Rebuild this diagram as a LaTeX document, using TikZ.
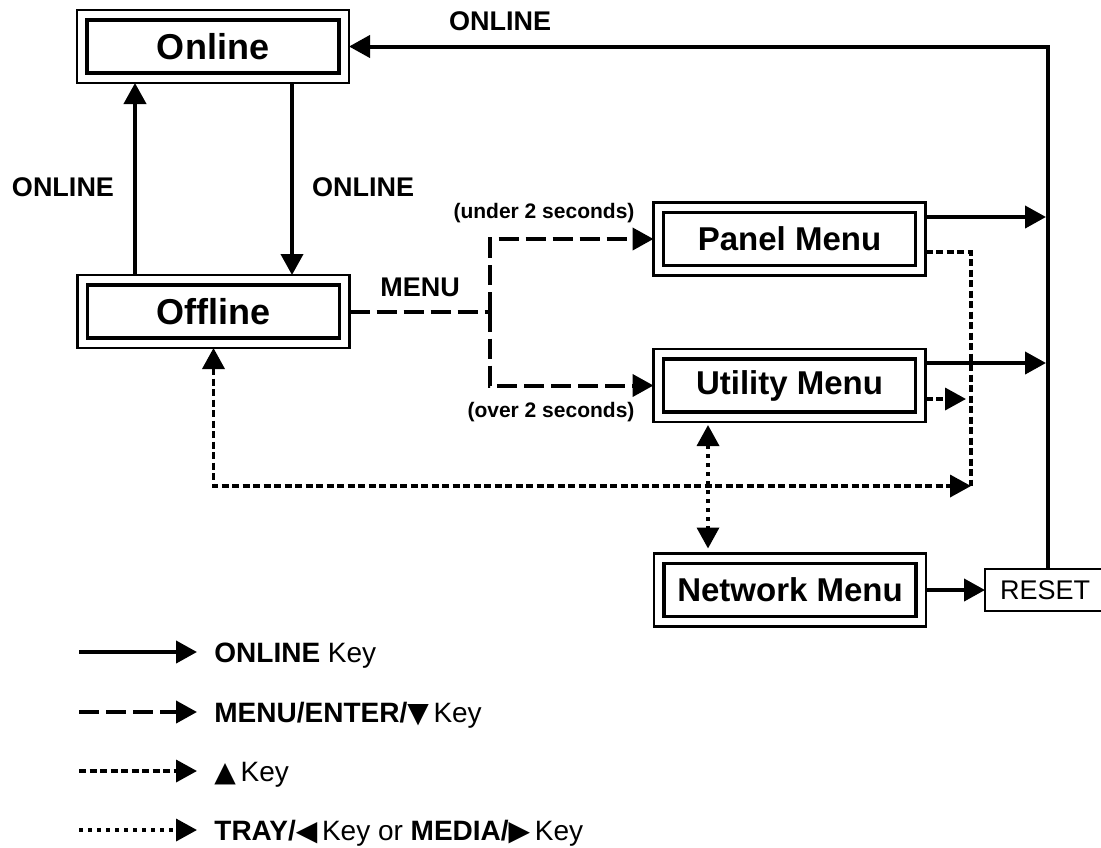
\documentclass[tikz,border=0pt]{standalone}
\usepackage{fontspec}
\setmainfont{Liberation Sans}
\newfontfamily\symfont{DejaVu Sans}
\usetikzlibrary{arrows.meta,calc}
\begin{document}
\begin{tikzpicture}[x=0.5pt,y=-0.5pt,
  >={Triangle[length=10.5pt,width=11pt]},
  box/.style={draw, line width=1.1pt, minimum width=136pt, minimum height=36.5pt,
    inner sep=0pt, outer sep=0pt, font=\bfseries\fontsize{18}{20}\selectfont},
  box2/.style={box, font=\bfseries\fontsize{16.5}{18}\selectfont},
  inbox/.style={line width=1.6pt},
  key/.style={line width=2pt},
  menukey/.style={line width=2pt, dash pattern=on 10pt off 3.5pt},
  upkey/.style={line width=1.8pt, dash pattern=on 3.5pt off 1.75pt},
  traykey/.style={line width=1.8pt, dash pattern=on 2pt off 2.5pt},
  lbl/.style={font=\bfseries\fontsize{13.5}{15}\selectfont, inner sep=0pt},
  sec/.style={font=\bfseries\fontsize{10.5}{12}\selectfont, inner sep=0pt},
  legend/.style={font=\fontsize{14}{16}\selectfont, anchor=base west, inner sep=0pt}]

\newcommand\tri[1]{{\symfont\fontsize{14}{16}\selectfont #1}}

\path[fill=white, use as bounding box] (0,0) rectangle (1101,847);

% boxes
\node[box]  (on)  at (213,46.5)    {Online};
\node[box]  (off) at (213.5,311.5) {Offline};
\node[box2] (pm)  at (789.5,239)   {Panel Menu};
\node[box2] (um)  at (789.5,385.5) {Utility Menu};
\node[box2] (nm)  at (790,590)     {Network Menu};
\foreach \n in {on,off,pm,um,nm}
  \draw[inbox] ([shift={(5pt,-5pt)}]\n.north west) rectangle ([shift={(-5pt,5pt)}]\n.south east);
\node[draw, line width=0.6pt, minimum width=60pt, minimum height=21pt, inner sep=0pt,
      outer sep=0pt, font=\fontsize{13.5}{15}\selectfont] (reset) at (1045,590) {RESET};

% helper coordinates
\coordinate (vx) at (1048,0);
\coordinate (xl) at (135,0);
\coordinate (xr) at (292,0);
\coordinate (br) at (490,311.5);
\coordinate (cx) at (971,486);
\coordinate (ux) at (966,0);
\coordinate (xu) at (708,0);

% ONLINE key connectors
\draw[key,->] (reset.north -| vx) -- (vx |- on.east) -- (on.east);
\draw[key,->] (on.south -| xr) -- (off.north -| xr);
\draw[key,->] (off.north -| xl) -- (on.south -| xl);
\draw[key,->,shorten >=1pt] ([yshift=11pt]pm.east) -- ([yshift=11pt]pm.east -| vx);
\draw[key,->,shorten >=1pt] ([yshift=11.25pt]um.east) -- ([yshift=11.25pt]um.east -| vx);
\draw[key,->] (nm.east) -- (nm.east -| reset.west);

% MENU key connectors
\draw[menukey] (off.east) -- (br);
\draw[menukey,->] (br) |- (pm.west);
\draw[menukey,->] (br) |- (um.west);

% up key connectors
\draw[upkey] ([yshift=-6.5pt]pm.east) -| (cx);
\draw[upkey,<->] (off.south) |- (cx);
\draw[upkey,->] ([yshift=-6.75pt]um.east) -- ([yshift=-6.75pt]um.east -| ux);

% tray/media connectors
\draw[traykey,<->,shorten <=1.5pt,shorten >=2.5pt] (um.south -| xu) -- (nm.north -| xu);

% labels
\node[lbl] (l1) at (500,21)  {ONLINE};
\node[lbl] (l2) at (63,187)  {ONLINE};
\node[lbl] (l3) at (363,187) {ONLINE};
\node[lbl] (l4) at (420,287) {MENU};
\node[sec] (l5) at (544,213) {(under 2 seconds)};
\node[sec] (l6) at (551,412) {(over 2 seconds)};

% legend
\coordinate (a1) at (79,652);  \coordinate (b1) at (197,652);
\coordinate (a2) at (79,712);  \coordinate (b2) at (197,712);
\coordinate (a3) at (79,771);  \coordinate (b3) at (197,771);
\coordinate (a4) at (79,830);  \coordinate (b4) at (197,830);
\draw[key,->] (a1) -- (b1);
\draw[menukey,->] (a2) -- (b2);
\draw[upkey,->] (a3) -- (b3);
\draw[traykey,->] (a4) -- (b4);
\node[legend] (t1) at (214,662) {\textbf{ONLINE} Key};
\node[legend] (t2) at (214,722) {\textbf{MENU/ENTER/}\tri{▼}\,Key};
\node[legend] (t3) at (214,781) {\tri{▲}\,Key};
\node[legend] (t4) at (214,840) {\textbf{TRAY/}\tri{◀}\,Key or \textbf{MEDIA/}\tri{▶}\,Key};
\end{tikzpicture}
\end{document}
